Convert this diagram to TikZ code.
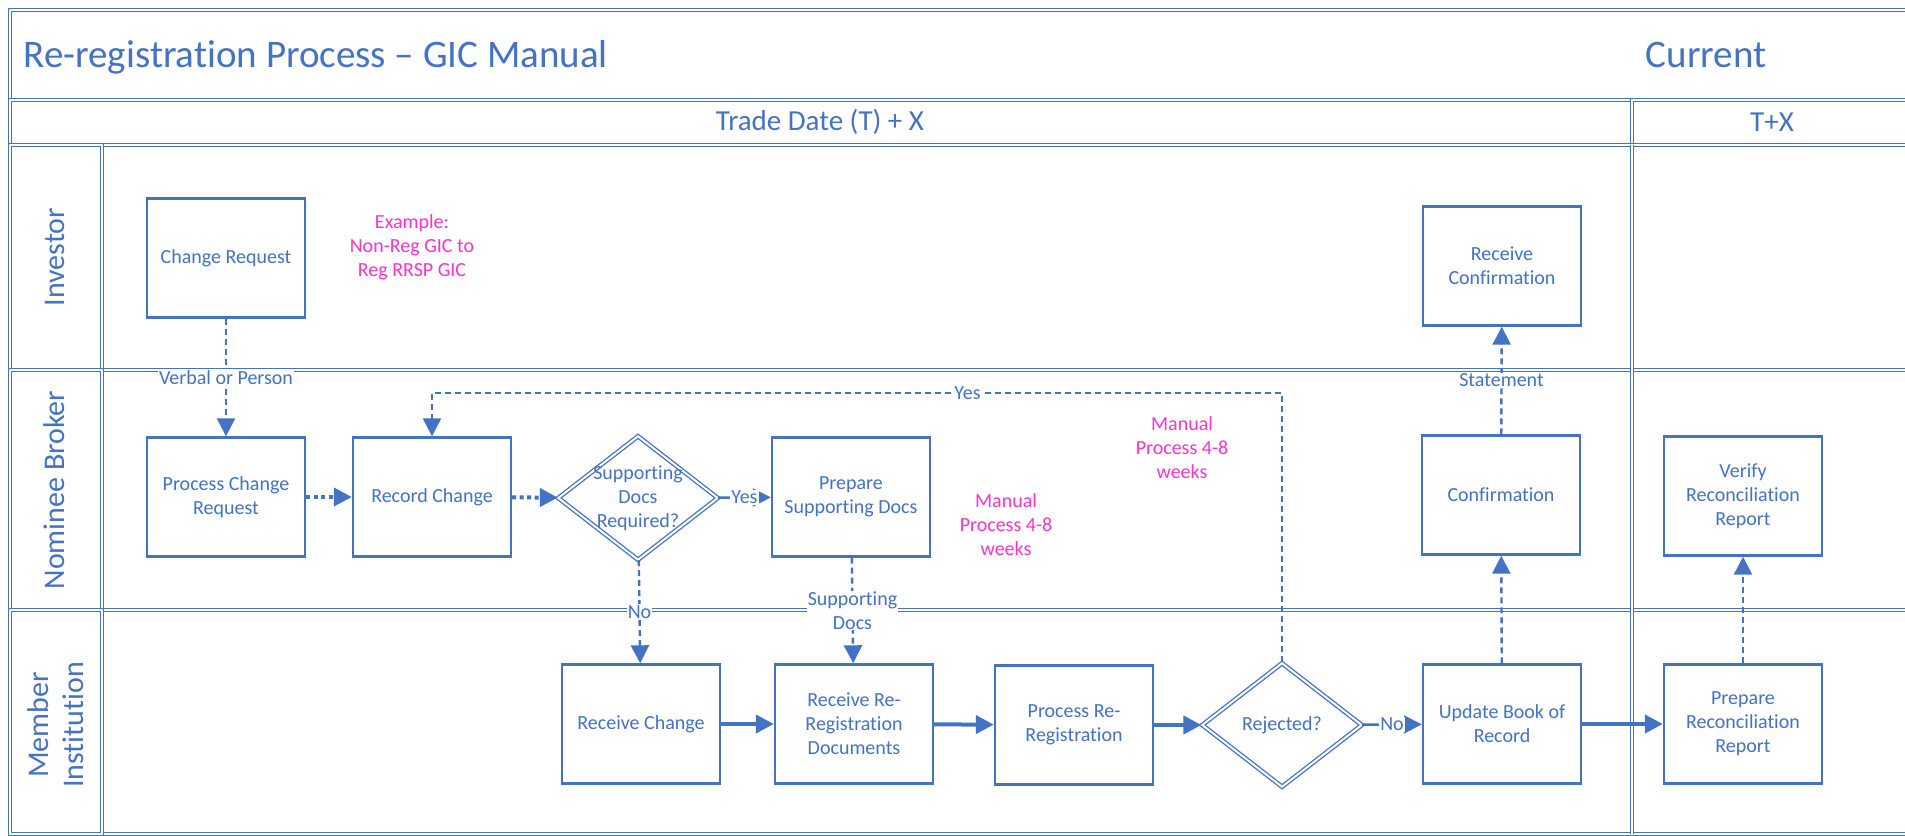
\documentclass[tikz,border=0pt]{standalone}
\usepackage{fontspec}
\setmainfont{Carlito}[Ligatures=NoCommon]
\usepackage{tikz}
\usetikzlibrary{shapes.geometric,arrows.meta}
\definecolor{flowblue}{HTML}{4472C4}
\definecolor{notepink}{HTML}{FF33CC}
\newcommand{\boxfont}{\fontsize{20}{24}\selectfont}

\begin{document}
\begin{tikzpicture}[x=1pt, y=-1pt,
  lane/.style={draw=flowblue, line width=1.5pt, double=white, double distance=1.8pt},
  box/.style={draw=flowblue, line width=2.4pt, fill=white, text=flowblue, minimum width=158pt, minimum height=119pt, align=center, font=\boxfont},
  decision/.style={diamond, draw=flowblue, line width=1.3pt, double=white, double distance=2pt, minimum width=160pt, minimum height=124pt, inner sep=0pt},
  plain/.style={text=flowblue, align=center, font=\boxfont},
  note/.style={text=notepink, align=center, font=\boxfont},
  tag/.style={fill=white, text=flowblue, inner sep=1pt, align=center, font=\boxfont},
  lanetext/.style={rotate=90, text=flowblue, align=center, font=\fontsize{30}{35}\selectfont},
  headtext/.style={text=flowblue, font=\fontsize{29}{34}\selectfont},
  tip/.style={-{Triangle[length=18pt,width=18pt]}},
  dashflow/.style={tip, draw=flowblue, line width=2.4pt, dash pattern=on 6pt off 4pt},
  dotflow/.style={tip, draw=flowblue, line width=4pt, dash pattern=on 4pt off 3.5pt},
  flow/.style={tip, draw=flowblue, line width=4pt},
  thinflow/.style={tip, draw=flowblue, line width=2.4pt}]
\clip (0,0) rectangle (1905,835);
\fill[white] (0,0) rectangle (1905,835);

% swimlane frame
\draw[lane] (10,10) rectangle (1925,100);
\draw[lane] (10,100) rectangle (1632,145);
\draw[lane] (1632,100) rectangle (1925,145);
\foreach \top/\bot in {145/370, 370/610, 610/834} {
  \draw[lane] (10,\top) rectangle (1925,\bot);
  \draw[lane] (10,\top) rectangle (102,\bot);
}
\draw[lane] (1632,145) -- (1632,834);

\node (title) at (20,67) [anchor=base west, text=flowblue, font=\fontsize{39}{47}\selectfont] {Re-registration Process -- GIC Manual};
\node (phase) at (1706,67) [anchor=base, text=flowblue, font=\fontsize{39}{47}\selectfont] {Current};
\node (tdate) at (820,122) [headtext] {Trade Date (T) + X};
\node (tx) at (1772,122) [headtext] {T+X};

\node (inv) at (55,257) [lanetext] {Investor};
\node (nom) at (54,490) [lanetext] {Nominee Broker};
\node (mem) at (56,725) [lanetext] {Member\\Institution};

% investor
\node (chg) at (226,258) [box] {Change Request};
\node (rcf) at (1502,266) [box] {Receive\\Confirmation};
\node (ex) at (412,247) [note] {Example:\\Non-Reg GIC to\\Reg RRSP GIC};

% nominee broker
\node (pcr) at (226,497) [box] {Process Change\\Request};
\node (rec) at (432,497) [box] {Record Change};
\node (sup) at (638,498) [decision] {};
\node (suptext) at (sup.center) [plain] {Supporting\\Docs\\Required?};
\node (psd) at (851,497) [box] {Prepare\\Supporting Docs};
\node (man1) at (1006,525) [note] {Manual\\Process 4-8\\weeks};
\node (man2) at (1182,448) [note] {Manual\\Process 4-8\\weeks};
\node (conf) at (1501,495) [box] {Confirmation};
\node (ver) at (1743,496) [box] {Verify\\Reconciliation\\Report};

% member institution
\node (rc) at (641,724) [box] {Receive Change};
\node (rrd) at (854,724) [box] {Receive Re-\\Registration\\Documents};
\node (prr) at (1074,725) [box] {Process Re-\\Registration};
\node (rej) at (1282,725) [decision] {};
\node (rejtext) at (rej.center) [plain] {Rejected?};
\node (upd) at (1502,724) [box] {Update Book of\\Record};
\node (prep) at (1743,724) [box] {Prepare\\Reconciliation\\Report};

% connectors
\draw[dashflow] (chg) -- node[tag] {Verbal or Person} (pcr);
\draw[dotflow] (pcr) -- (rec);
\draw[dotflow] (rec) -- (sup);
\draw[thinflow] (sup) -- node[tag] {Yes} (psd);
\draw[dashflow] (sup) -- node[tag] {No} (rc);
\draw[dashflow] (psd) -- node[tag] {Supporting\\Docs} (rrd);
\draw[flow] (rc) -- (rrd);
\draw[flow] (rrd) -- (prr);
\draw[flow] (prr) -- (rej);
\draw[thinflow] (rej) -- node[tag] {No} (upd);
\coordinate (loop) at (0,393);
\draw[dashflow] (rej.north) -- (rej.north |- loop) -- node[tag, pos=0.37] {Yes} (rec.north |- loop) -- (rec.north);
\draw[dashflow] (upd) -- (conf);
\draw[dashflow] (conf) -- node[tag] {Statement} (rcf);
\draw[flow] (upd) -- (prep);
\draw[dashflow] (prep) -- (ver);
\end{tikzpicture}
\end{document}
